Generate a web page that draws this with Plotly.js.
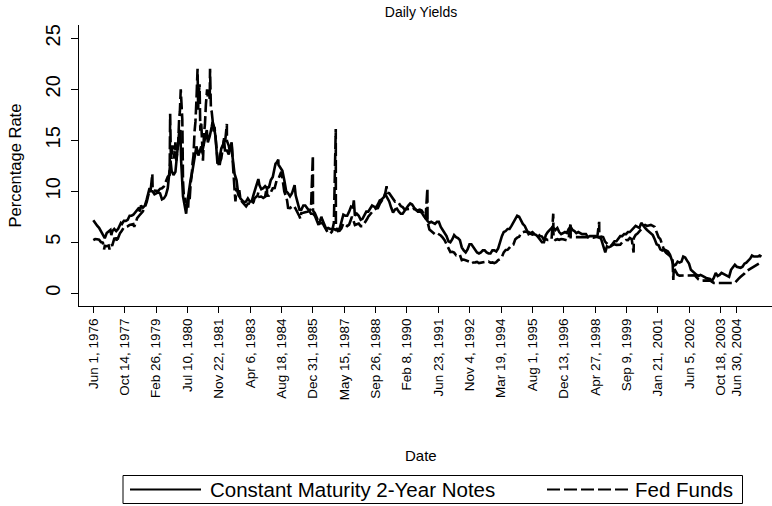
<!DOCTYPE html>
<html><head><meta charset="utf-8">
<script src="https://cdn.plot.ly/plotly-3.0.1.min.js"></script>
<style>html,body{margin:0;padding:0;background:#fff;} #chart{width:772px;height:506px;}</style>
</head><body><div id="chart"></div>
<script>
const chartTitle = "Daily Yields";
const yTitle = "Percentage Rate";
const xTitle = "Date";
const seriesNames = ["Constant Maturity 2-Year Notes", "Fed Funds"];

const xTickDates = ["1976-06-01","1977-10-14","1979-02-26","1980-07-10","1981-11-22","1983-04-06","1984-08-18","1985-12-31","1987-05-15","1988-09-26","1990-02-08","1991-06-23","1992-11-04","1994-03-19","1995-08-01","1996-12-13","1998-04-27","1999-09-09","2001-01-21","2002-06-05","2003-10-18","2004-06-30"];
const xTickLabels = ["Jun 1, 1976","Oct 14, 1977","Feb 26, 1979","Jul 10, 1980","Nov 22, 1981","Apr 6, 1983","Aug 18, 1984","Dec 31, 1985","May 15, 1987","Sep 26, 1988","Feb 8, 1990","Jun 23, 1991","Nov 4, 1992","Mar 19, 1994","Aug 1, 1995","Dec 13, 1996","Apr 27, 1998","Sep 9, 1999","Jan 21, 2001","Jun 5, 2002","Oct 18, 2003","Jun 30, 2004"];
const yTickValues = [0,5,10,15,20,25];

// Constant Maturity 2-Year Notes (month-start readings)
const cmtDates = [
"1976-06-01","1976-07","1976-08","1976-09","1976-10","1976-11","1976-12",
"1977-01","1977-02","1977-03","1977-04","1977-05","1977-06","1977-07","1977-08","1977-09","1977-10","1977-11","1977-12",
"1978-01","1978-02","1978-03","1978-04","1978-05","1978-06","1978-07","1978-08","1978-09","1978-10","1978-11","1978-12",
"1979-01","1979-02","1979-03","1979-04","1979-05","1979-06","1979-07","1979-08","1979-09","1979-10","1979-11","1979-12",
"1980-01","1980-02","1980-03","1980-04","1980-05","1980-06","1980-06-20","1980-07","1980-08","1980-09","1980-10","1980-11","1980-12",
"1981-01","1981-02","1981-03","1981-04","1981-05","1981-06","1981-07","1981-08","1981-09","1981-10","1981-11","1981-12",
"1982-01","1982-02","1982-03","1982-04","1982-05","1982-06","1982-07","1982-08","1982-09","1982-10","1982-11","1982-12",
"1983-01","1983-02","1983-03","1983-04","1983-05","1983-06","1983-07","1983-08","1983-09","1983-10","1983-11","1983-12",
"1984-01","1984-02","1984-03","1984-04","1984-05","1984-06","1984-06-28","1984-07","1984-08","1984-09","1984-10","1984-11","1984-12",
"1985-01","1985-02","1985-03","1985-04","1985-05","1985-06","1985-07","1985-08","1985-09","1985-10","1985-11","1985-12",
"1986-01","1986-02","1986-03","1986-04","1986-05","1986-06","1986-07","1986-08","1986-09","1986-10","1986-11","1986-12",
"1987-01","1987-02","1987-03","1987-04","1987-05","1987-06","1987-07","1987-08","1987-09","1987-10","1987-10-15","1987-11","1987-12",
"1988-01","1988-02","1988-03","1988-04","1988-05","1988-06","1988-07","1988-08","1988-09","1988-10","1988-11","1988-12",
"1989-01","1989-02","1989-03","1989-04","1989-05","1989-06","1989-07","1989-08","1989-09","1989-10","1989-11","1989-12",
"1990-01","1990-02","1990-03","1990-04","1990-05","1990-06","1990-07","1990-08","1990-09","1990-10","1990-11","1990-12",
"1991-01","1991-02","1991-03","1991-04","1991-05","1991-06","1991-07","1991-08","1991-09","1991-10","1991-11","1991-12",
"1992-01","1992-02","1992-03","1992-04","1992-05","1992-06","1992-07","1992-08","1992-09","1992-10","1992-11","1992-12",
"1993-01","1993-02","1993-03","1993-04","1993-05","1993-06","1993-07","1993-08","1993-09","1993-10","1993-11","1993-12",
"1994-01","1994-02","1994-03","1994-04","1994-05","1994-06","1994-07","1994-08","1994-09","1994-10","1994-11","1994-12",
"1995-01","1995-02","1995-03","1995-04","1995-05","1995-06","1995-07","1995-08","1995-09","1995-10","1995-11","1995-12",
"1996-01","1996-02","1996-03","1996-04","1996-05","1996-06","1996-07","1996-08","1996-09","1996-10","1996-11","1996-12",
"1997-01","1997-02","1997-03","1997-04","1997-05","1997-06","1997-07","1997-08","1997-09","1997-10","1997-11","1997-12",
"1998-01","1998-02","1998-03","1998-04","1998-05","1998-06","1998-07","1998-08","1998-09","1998-10-05","1998-11","1998-12",
"1999-01","1999-02","1999-03","1999-04","1999-05","1999-06","1999-07","1999-08","1999-09","1999-10","1999-11","1999-12",
"2000-01","2000-02","2000-03","2000-04","2000-05","2000-06","2000-07","2000-08","2000-09","2000-10","2000-11","2000-12",
"2001-01","2001-02","2001-03","2001-04","2001-05","2001-06","2001-07","2001-08","2001-09","2001-10","2001-11","2001-12",
"2002-01","2002-02","2002-03","2002-04","2002-05","2002-06","2002-07","2002-08","2002-09","2002-10","2002-11","2002-12",
"2003-01","2003-03","2003-05","2003-06","2003-07","2003-08","2003-09","2003-10","2003-11","2003-12",
"2004-01","2004-03","2004-04","2004-05","2004-06","2004-07","2004-09","2004-10","2004-11","2004-12",
"2005-01","2005-02","2005-03","2005-04","2005-05","2005-06","2005-07","2005-07-30"
];
const cmtRates = [
7.16,6.85,6.63,6.42,6.1,5.8,5.4,
5.9,6.1,6.2,6.1,6.3,6.1,6.3,6.7,6.8,7.1,7.1,7.2,
7.6,7.6,7.7,7.9,8.1,8.4,8.6,8.4,8.6,9.2,9.9,10.0,
10.0,9.7,9.8,9.9,9.8,9.2,9.3,9.6,10.3,12.3,12.0,11.6,
11.9,13.6,15.8,13.0,9.5,8.6,7.8,8.6,10.0,11.2,12.1,13.5,14.4,
13.5,14.0,13.8,14.6,15.5,14.8,15.4,16.3,16.5,15.4,12.7,13.0,
14.2,14.6,14.0,14.0,13.6,14.3,13.3,11.7,11.1,9.6,9.3,9.1,
8.9,9.0,9.3,9.0,9.0,9.7,10.3,10.8,10.6,10.2,10.3,10.5,
10.3,10.4,11.1,11.4,12.3,12.8,13.1,12.6,12.3,12.0,11.1,10.0,9.8,
9.5,9.8,10.3,9.6,8.9,8.2,8.2,8.6,8.6,8.4,8.1,7.8,
7.8,7.6,7.1,6.7,7.2,7.2,6.7,6.3,6.4,6.3,6.3,6.3,
6.2,6.3,6.3,7.0,7.7,7.6,7.6,8.0,8.5,8.4,9.1,7.6,7.8,
7.6,7.2,7.3,7.6,8.0,8.0,8.3,8.6,8.5,8.4,8.7,9.1,
9.2,9.4,9.7,9.4,9.0,8.4,7.9,8.2,8.3,8.0,7.8,7.8,
8.1,8.3,8.6,8.8,8.7,8.4,8.2,8.0,8.0,7.9,7.6,7.3,
7.1,6.9,7.0,6.9,6.8,7.0,7.0,6.5,6.2,5.9,5.6,5.1,
5.0,5.3,5.7,5.5,5.4,5.2,4.5,4.2,4.0,4.3,4.8,4.8,
4.5,4.2,4.0,3.9,4.0,4.2,4.2,4.0,3.9,3.9,4.2,4.2,
4.1,4.4,5.0,5.6,6.0,6.1,6.3,6.3,6.6,6.9,7.3,7.6,
7.5,7.1,6.8,6.6,6.2,5.8,5.9,6.0,5.8,5.7,5.5,5.2,
5.0,5.0,5.7,6.0,6.2,6.4,6.4,6.2,6.4,6.0,5.8,5.9,
6.0,5.9,6.3,6.5,6.2,6.1,5.9,6.0,5.9,5.8,5.8,5.8,
5.5,5.6,5.6,5.6,5.6,5.5,5.5,5.3,4.6,4.0,4.6,4.5,
4.6,4.9,5.1,5.1,5.3,5.6,5.6,5.8,5.8,6.0,6.0,6.2,
6.4,6.6,6.5,6.4,6.9,6.6,6.4,6.2,6.0,5.9,5.7,5.3,
4.8,4.7,4.3,4.2,4.3,4.2,4.1,3.8,3.1,2.7,2.8,3.1,
3.0,3.1,3.6,3.5,3.2,2.9,2.3,2.1,1.9,1.8,1.7,1.8,
1.7,1.5,1.4,1.2,1.5,2.0,1.7,1.8,2.0,1.9,
1.8,1.6,2.3,2.6,2.8,2.6,2.5,2.6,2.9,3.0,
3.2,3.4,3.7,3.6,3.6,3.6,3.7,3.6
];
// extra mid-month readings of the 2-year notes in the volatile years
const cmtMidDates = ["1977-03-15","1977-08-15","1978-06-15","1978-11-15","1979-10-15","1980-02-15","1980-03-20","1980-11-15","1981-02-15","1981-05-15","1981-08-15","1981-09-15","1981-12-15","1982-02-15","1982-06-15","1982-10-15","1983-08-15","1984-05-15","1985-03-15","1986-05-15"];
const cmtMidRates = [5.7,6.9,8.0,10.3,13.0,14.6,16.0,14.2,14.4,16.0,16.8,15.8,13.6,15.0,14.8,10.1,11.2,12.7,10.6,7.5];

// Fed Funds (month-start readings and one-day spikes)
const ffDates = [
"1976-06-01","1976-07","1976-08","1976-09","1976-10","1976-11","1976-11-20","1976-12",
"1977-01","1977-02","1977-02-15","1977-03","1977-04","1977-05","1977-06","1977-07","1977-08","1977-09","1977-10","1977-11","1977-12",
"1978-01","1978-02","1978-03","1978-04","1978-05","1978-06","1978-07","1978-08","1978-09","1978-10","1978-11","1978-12","1978-12-29",
"1979-01-03","1979-02","1979-03","1979-04","1979-05","1979-06","1979-07","1979-08","1979-09","1979-10","1979-10-09","1979-10-20","1979-11","1979-11-15","1979-12","1979-12-31",
"1980-01","1980-01-15","1980-02","1980-03","1980-03-26","1980-04-07","1980-04-20","1980-05","1980-05-15","1980-06","1980-07","1980-07-20","1980-08","1980-09","1980-10","1980-11","1980-12","1980-12-19","1980-12-29",
"1981-01","1981-01-20","1981-02","1981-03","1981-03-15","1981-04","1981-05","1981-05-20","1981-06","1981-07","1981-07-06","1981-07-20","1981-08","1981-09","1981-10","1981-11","1981-12",
"1982-01","1982-02","1982-03","1982-03-31","1982-04","1982-05","1982-06","1982-07","1982-08","1982-08-15","1982-09","1982-10","1982-11","1982-12",
"1983-01","1983-02","1983-03","1983-04","1983-05","1983-06","1983-07","1983-08","1983-09","1983-10","1983-11","1983-12","1983-12-30",
"1984-01","1984-02","1984-03","1984-04","1984-05","1984-06","1984-07","1984-08","1984-09","1984-10","1984-11","1984-12",
"1985-01","1985-02","1985-03","1985-04","1985-05","1985-06","1985-07","1985-08","1985-09","1985-10","1985-11","1985-12","1985-12-31",
"1986-01-02","1986-02","1986-03","1986-04","1986-05","1986-06","1986-07","1986-08","1986-09","1986-10","1986-11","1986-12","1986-12-31",
"1987-01-02","1987-02","1987-03","1987-04","1987-05","1987-06","1987-07","1987-08","1987-09","1987-10","1987-11","1987-12",
"1988-01","1988-02","1988-03","1988-04","1988-05","1988-06","1988-07","1988-08","1988-09","1988-10","1988-11","1988-12",
"1989-01","1989-02","1989-03","1989-03-20","1989-04","1989-05","1989-06","1989-07","1989-08","1989-09","1989-10","1989-11","1989-12",
"1990-01","1990-02","1990-03","1990-04","1990-05","1990-06","1990-07","1990-08","1990-09","1990-10","1990-11","1990-12","1990-12-31",
"1991-01-02","1991-02","1991-03","1991-04","1991-05","1991-06","1991-07","1991-08","1991-09","1991-10","1991-11","1991-12",
"1992-01","1992-02","1992-03","1992-04","1992-05","1992-06","1992-07","1992-08","1992-09","1992-10","1992-11","1992-12",
"1993-01","1993-02","1993-03","1993-04","1993-05","1993-06","1993-07","1993-08","1993-09","1993-10","1993-11","1993-12",
"1994-01","1994-02","1994-03","1994-04","1994-05","1994-06","1994-07","1994-08","1994-09","1994-10","1994-11","1994-12",
"1995-01","1995-02","1995-03","1995-04","1995-05","1995-06","1995-07","1995-08","1995-09","1995-10","1995-11","1995-12",
"1996-01","1996-02","1996-03","1996-04","1996-05","1996-06","1996-06-28","1996-07-02","1996-08","1996-09","1996-10","1996-11","1996-12",
"1997-01","1997-02","1997-03","1997-03-31","1997-04-02","1997-05","1997-06","1997-07","1997-08","1997-09","1997-10","1997-11","1997-12",
"1998-01","1998-02","1998-03","1998-04","1998-05","1998-06","1998-06-30","1998-07-02","1998-08","1998-09","1998-10","1998-11","1998-12",
"1999-01","1999-02","1999-03","1999-04","1999-05","1999-06","1999-07","1999-08","1999-09","1999-10","1999-11","1999-12","1999-12-31",
"2000-01-03","2000-02","2000-03","2000-04","2000-05","2000-06","2000-07","2000-08","2000-09","2000-10","2000-11","2000-12",
"2001-01","2001-02","2001-03","2001-04","2001-05","2001-06","2001-07","2001-08","2001-09-10","2001-09-24","2001-10","2001-11","2001-12",
"2002-01","2002-03","2002-05","2002-07","2002-09","2002-11","2002-12",
"2003-01","2003-03","2003-05","2003-07","2003-09","2003-11",
"2004-01","2004-03","2004-05","2004-06","2004-07","2004-08","2004-09","2004-10","2004-11","2004-12",
"2005-01","2005-02","2005-03","2005-04","2005-05","2005-06","2005-07","2005-07-30"
];
const ffRates = [
5.2,5.31,5.29,5.25,5.02,4.95,4.3,4.65,
4.61,4.68,4.3,4.69,4.73,5.35,5.39,5.42,5.90,6.14,6.47,6.51,6.56,
6.70,6.78,6.79,6.89,7.36,7.60,7.81,8.04,8.45,8.96,9.76,10.03,11.7,
10.1,10.06,10.09,10.01,10.24,10.29,10.47,10.94,11.43,11.6,17.6,13.5,13.18,14.5,13.78,14.8,
13.82,13.0,14.13,17.19,20.0,18.5,17.0,10.98,9.5,9.47,9.03,8.2,9.61,10.87,12.81,15.85,18.90,22.0,18.0,
19.08,20.5,15.93,14.70,13.0,15.72,18.52,20.0,19.10,19.04,22.0,18.0,17.82,15.87,15.08,13.31,12.37,
13.22,14.78,14.68,16.6,14.94,14.45,14.15,12.59,10.12,9.0,10.31,9.71,9.20,8.95,
8.68,8.51,8.77,8.80,8.63,8.98,9.37,9.56,9.45,9.48,9.34,9.47,10.5,
9.56,9.59,9.91,10.29,10.32,11.06,11.23,11.64,11.30,9.99,9.43,8.38,
8.35,8.50,8.58,8.27,7.97,7.53,7.88,7.90,7.92,7.99,8.05,8.27,13.5,
8.1,7.86,7.48,6.99,6.85,6.92,6.56,6.17,5.89,5.85,6.04,6.91,16.1,
6.4,6.10,6.13,6.37,6.85,6.73,6.58,6.73,7.22,7.29,6.69,6.77,
6.83,6.58,6.58,6.87,7.09,7.51,7.75,8.01,8.19,8.30,8.35,8.76,
9.12,9.36,9.85,10.5,9.84,9.81,9.53,9.24,8.99,9.02,8.84,8.55,8.45,
8.23,8.24,8.28,8.26,8.18,8.29,8.15,8.13,8.20,8.11,7.81,7.31,10.3,
7.0,6.25,6.12,5.91,5.78,5.90,5.82,5.66,5.45,5.21,4.81,4.43,
4.03,4.06,3.98,3.73,3.82,3.76,3.25,3.30,3.22,3.10,3.09,2.92,
3.02,3.03,3.07,2.96,3.00,3.04,3.06,3.03,3.09,2.99,3.02,2.96,
3.05,3.25,3.34,3.56,4.01,4.25,4.26,4.47,4.73,4.76,5.29,5.45,
5.53,5.92,5.98,6.05,6.01,6.00,5.85,5.74,5.80,5.76,5.80,5.60,
5.56,5.22,5.31,5.22,5.24,5.27,7.8,5.4,5.22,5.30,5.24,5.31,5.29,
5.25,5.19,5.39,6.9,5.5,5.50,5.56,5.52,5.54,5.54,5.50,5.52,5.50,
5.56,5.51,5.49,5.45,5.49,5.56,7.0,5.5,5.55,5.51,5.07,4.83,4.68,
4.63,4.76,4.81,4.74,4.74,4.76,4.99,5.07,5.22,5.20,5.42,5.30,4.0,
5.4,5.73,5.85,6.02,6.27,6.6,6.7,6.6,6.65,6.7,6.6,6.5,
5.98,5.49,5.31,4.80,4.21,3.97,3.77,3.65,3.5,1.3,2.49,2.09,1.82,
1.73,1.73,1.75,1.73,1.75,1.34,1.24,
1.24,1.25,1.26,1.01,1.00,1.00,
1.00,1.00,1.00,1.03,1.26,1.43,1.61,1.76,1.93,2.16,
2.28,2.45,2.55,2.65,2.78,2.88,2.95,3.0
];
// extra mid-month Fed Funds readings in the volatile years
const ffMidDates = ["1977-06-15","1978-03-15","1978-08-15","1979-12-15","1980-02-15","1980-03-12","1980-06-15","1980-08-15","1980-09-15","1980-10-15","1980-11-15","1981-02-15","1981-04-15","1981-06-15","1981-08-15","1981-09-15","1981-10-15","1981-11-15","1981-12-15","1982-01-15","1982-02-15","1982-05-15","1982-06-15","1982-07-15","1983-06-15","1983-08-15","1984-03-15","1984-08-15","1984-11-15","1985-06-15","1986-03-15","1987-09-15","1988-05-15"];
const ffMidRates = [5.0,6.5,8.3,13.2,14.8,17.8,8.9,9.2,11.4,13.5,16.8,16.8,16.5,19.8,17.0,16.3,14.6,12.8,12.9,13.8,15.2,14.0,14.6,11.8,9.3,9.9,10.1,11.9,9.1,7.3,7.2,7.5,7.3];

// merge month-start and mid-month readings in date order
function merged(d1, v1, d2, v2) {
  const rows = d1.map((d, i) => [d, v1[i]]).concat(d2.map((d, i) => [d, v2[i]]));
  rows.sort((a, b) => (a[0] < b[0] ? -1 : a[0] > b[0] ? 1 : 0));
  return {x: rows.map(r => r[0]), y: rows.map(r => r[1])};
}
const cmt = merged(cmtDates, cmtRates, cmtMidDates, cmtMidRates);
const ff = merged(ffDates, ffRates, ffMidDates, ffMidRates);

const FONT = "Liberation Sans, Arial, Helvetica, sans-serif";
const W = 772, H = 506;
const M = {l: 79, r: 0, t: 25, b: 200};
const PW = W - M.l - M.r, PH = H - M.t - M.b;
const px = v => (v - M.l) / PW;          // pixel x -> paper x
const py = v => (H - M.b - v) / PH;       // pixel y -> paper y

const traces = [
  {x: cmt.x, y: cmt.y, type: "scatter", mode: "lines", name: seriesNames[0],
   line: {color: "#000", width: 2.6}},
  {x: ff.x, y: ff.y, type: "scatter", mode: "lines", name: seriesNames[1],
   line: {color: "#000", width: 2.6, dash: "13px,4px"}}
];

const layout = {
  width: W, height: H,
  margin: M,
  paper_bgcolor: "#fff", plot_bgcolor: "#fff",
  showlegend: false,
  font: {family: FONT, color: "#000"},
  title: {text: chartTitle, x: px(421), xref: "paper", xanchor: "center",
          y: 1 - 12 / H, yref: "container", yanchor: "middle",
          font: {size: 14, family: FONT, color: "#000"}},
  xaxis: {
    type: "date",
    range: ["1975-10-17", "2006-01-14"],
    tickmode: "array", tickvals: xTickDates, ticktext: xTickLabels,
    tickangle: -90, ticks: "outside", ticklen: 6, tickwidth: 1, tickcolor: "#000",
    tickfont: {size: 13.5, family: FONT, color: "#000"},
    showline: true, linecolor: "#000", linewidth: 1,
    showgrid: false, zeroline: false, automargin: false
  },
  yaxis: {
    range: [-1.25, 26.3],
    tickmode: "array", tickvals: yTickValues, ticktext: yTickValues.map(String),
    tickangle: -90, ticks: "outside", ticklen: 7, tickwidth: 1, tickcolor: "#000",
    ticklabelstandoff: 3,
    tickfont: {size: 20, family: FONT, color: "#000"},
    showline: true, linecolor: "#000", linewidth: 1,
    showgrid: false, zeroline: false, automargin: false
  },
  annotations: [
    {text: yTitle, xref: "paper", yref: "paper", x: px(14), y: py(165.5), textangle: -90,
     showarrow: false, xanchor: "center", yanchor: "middle", font: {size: 16.5, family: FONT, color: "#000"}},
    {text: xTitle, xref: "paper", yref: "paper", x: px(421), y: py(455),
     showarrow: false, xanchor: "center", yanchor: "middle", font: {size: 15, family: FONT, color: "#000"}},
    {text: seriesNames[0], xref: "paper", yref: "paper", x: px(208), y: py(489.5),
     showarrow: false, xanchor: "left", yanchor: "middle", font: {size: 20.5, family: FONT, color: "#000"}},
    {text: seriesNames[1], xref: "paper", yref: "paper", x: px(633), y: py(489.5),
     showarrow: false, xanchor: "left", yanchor: "middle", font: {size: 20.5, family: FONT, color: "#000"}}
  ],
  shapes: [
    {type: "rect", xref: "paper", yref: "paper", x0: px(123), x1: px(742.5), y0: py(475.5), y1: py(503.5),
     line: {color: "#000", width: 1}, fillcolor: "rgba(0,0,0,0)"},
    {type: "line", xref: "paper", yref: "paper", x0: px(130), x1: px(201), y0: py(489.5), y1: py(489.5),
     line: {color: "#000", width: 2}},
    {type: "line", xref: "paper", yref: "paper", x0: px(547), x1: px(630), y0: py(489.5), y1: py(489.5),
     line: {color: "#000", width: 2, dash: "13px,4px"}}
  ]
};

Plotly.newPlot("chart", traces, layout, {staticPlot: true, displayModeBar: false});
</script>
</body></html>
